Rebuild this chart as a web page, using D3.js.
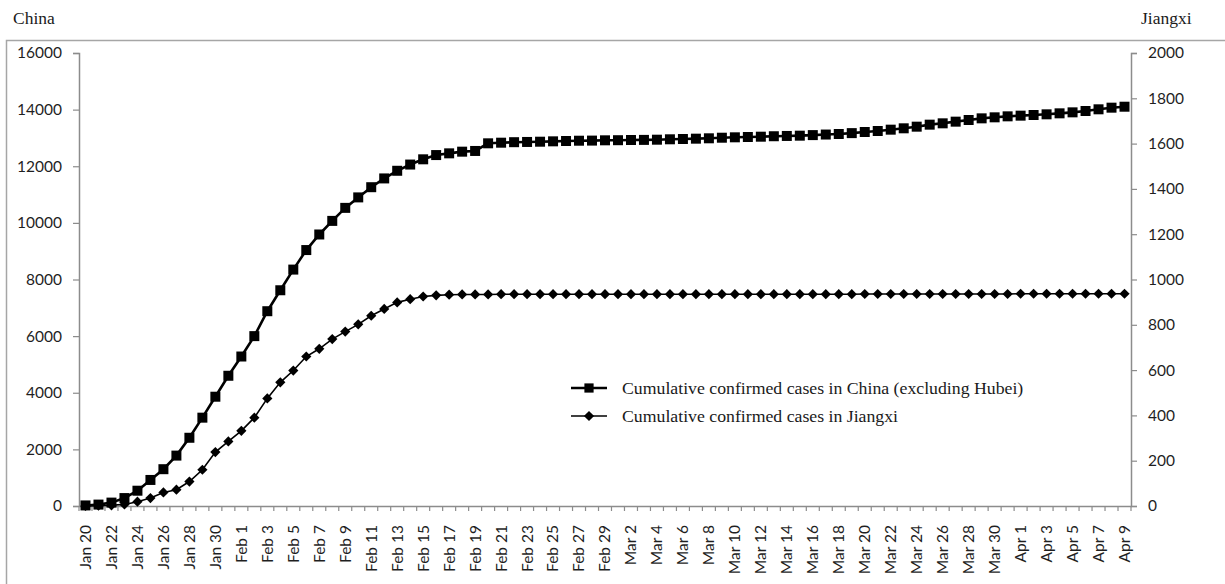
<!DOCTYPE html>
<html>
<head>
<meta charset="utf-8">
<script src="https://cdn.jsdelivr.net/npm/d3@7"></script>
<style>
  body { margin: 0; background: #fff; }
  .tick text { font-family: Lato, "Open Sans", sans-serif; font-size: 15.5px; fill: #1f1f1f; }
  .serif { font-family: "Liberation Serif", "Times New Roman", serif; fill: #1a1a1a; }
</style>
</head>
<body>
<div id="chart"></div>
<script>
// chart size
const width = 1225;
const height = 584;
const margin = {left: 79, right: 94, top: 53, bottom: 78};

// categories (daily, 2020)
const dates = [
  "Jan 20","Jan 21","Jan 22","Jan 23","Jan 24","Jan 25","Jan 26","Jan 27","Jan 28","Jan 29","Jan 30","Jan 31",
  "Feb 1","Feb 2","Feb 3","Feb 4","Feb 5","Feb 6","Feb 7","Feb 8","Feb 9","Feb 10","Feb 11","Feb 12","Feb 13",
  "Feb 14","Feb 15","Feb 16","Feb 17","Feb 18","Feb 19","Feb 20","Feb 21","Feb 22","Feb 23","Feb 24","Feb 25",
  "Feb 26","Feb 27","Feb 28","Feb 29",
  "Mar 1","Mar 2","Mar 3","Mar 4","Mar 5","Mar 6","Mar 7","Mar 8","Mar 9","Mar 10","Mar 11","Mar 12","Mar 13",
  "Mar 14","Mar 15","Mar 16","Mar 17","Mar 18","Mar 19","Mar 20","Mar 21","Mar 22","Mar 23","Mar 24","Mar 25",
  "Mar 26","Mar 27","Mar 28","Mar 29","Mar 30","Mar 31",
  "Apr 1","Apr 2","Apr 3","Apr 4","Apr 5","Apr 6","Apr 7","Apr 8","Apr 9"
];

// cumulative confirmed cases in China excluding Hubei (left axis)
const chinaCases = [
  20, 50, 120, 280, 540, 920, 1300, 1780, 2410, 3120, 3860, 4600,
  5280, 6000, 6880, 7620, 8350, 9040, 9590, 10070, 10530, 10900, 11260, 11570, 11840,
  12060, 12245, 12395, 12456, 12515, 12540, 12810, 12832, 12850, 12858, 12867, 12880,
  12892, 12902, 12906, 12916,
  12920, 12927, 12931, 12938, 12952, 12962, 12974, 12987, 13008, 13022, 13033, 13044, 13060,
  13070, 13080, 13100, 13120, 13140, 13170, 13210, 13245, 13292, 13340, 13398, 13469,
  13516, 13575, 13634, 13692, 13728, 13763,
  13787, 13810, 13834, 13869, 13904, 13952, 14011, 14069, 14103
];

// cumulative confirmed cases in Jiangxi (right axis)
const jiangxiCases = [
  0, 2, 3, 7, 19, 35, 60, 72, 108, 160, 238, 285,
  332, 390, 475, 546, 598, 660, 694, 737, 770, 802, 840, 870, 899,
  913, 925, 930, 933, 934, 934, 934, 935, 935, 935, 935, 935,
  935, 935, 935, 935,
  935, 935, 935, 935, 935, 935, 935, 935, 935, 935, 935, 935, 935,
  935, 935, 935, 935, 935, 935, 936, 936, 936, 936, 936, 936,
  936, 936, 936, 936, 936, 936,
  937, 937, 937, 937, 937, 937, 937, 937, 937
];

const leftTicks = [0, 2000, 4000, 6000, 8000, 10000, 12000, 14000, 16000];
const rightTicks = [0, 200, 400, 600, 800, 1000, 1200, 1400, 1600, 1800, 2000];

const legendLabels = [
  "Cumulative confirmed cases in China (excluding Hubei)",
  "Cumulative confirmed cases in Jiangxi"
];

const axisColor = "#8c8c8c";

const svg = d3.select("#chart")
  .append("svg")
  .attr("width", width)
  .attr("height", height);

// outer frame
svg.append("rect")
  .attr("x", 6.5).attr("y", 40.5)
  .attr("width", width + 20).attr("height", height)
  .attr("fill", "none")
  .attr("stroke", "#a6a6a6")
  .attr("stroke-width", 1.5);

// axis titles
svg.append("text").attr("class", "serif")
  .attr("x", 13).attr("y", 24)
  .style("font-size", "17.5px")
  .text("China");
svg.append("text").attr("class", "serif")
  .attr("x", 1141).attr("y", 24)
  .style("font-size", "17.5px")
  .text("Jiangxi");

/* scales */
const xScale = d3.scaleBand()
  .domain(dates)
  .range([margin.left, width - margin.right])
  .padding(0);
const xc = d => xScale(d) + xScale.bandwidth() / 2;

const yLeft = d3.scaleLinear()
  .domain([0, 16000])
  .range([height - margin.bottom, margin.top]);

const yRight = d3.scaleLinear()
  .domain([0, 2000])
  .range([height - margin.bottom, margin.top]);

/* axes */
const gLeft = svg.append("g")
  .attr("transform", `translate(${margin.left},0)`)
  .call(d3.axisLeft(yLeft).tickValues(leftTicks).tickFormat(d3.format("d"))
    .tickSizeOuter(0).tickSize(6).tickPadding(11));

const gRight = svg.append("g")
  .attr("transform", `translate(${width - margin.right},0)`)
  .call(d3.axisRight(yRight).tickValues(rightTicks).tickFormat(d3.format("d"))
    .tickSizeOuter(0).tickSize(6).tickPadding(11));

const gX = svg.append("g")
  .attr("transform", `translate(0,${height - margin.bottom})`)
  .call(d3.axisBottom(xScale)
    .tickValues(dates.filter((d, i) => i % 2 === 0))
    .tickSize(0).tickSizeOuter(0));

gX.selectAll(".tick text")
  .attr("transform", "rotate(-90)")
  .attr("x", -19)
  .attr("y", 0)
  .attr("dy", "0.35em")
  .style("text-anchor", "end");

// tick marks between categories
gX.selectAll(".bound")
  .data(dates.map(d => xScale(d)).concat([width - margin.right]))
  .enter()
  .append("line")
    .attr("class", "bound")
    .attr("x1", d => d).attr("x2", d => d)
    .attr("y1", 0).attr("y2", 5);

[gLeft, gRight, gX].forEach(g => {
  g.selectAll("path.domain").attr("stroke", axisColor).attr("stroke-width", 1.5);
  g.selectAll("line").attr("stroke", axisColor).attr("stroke-width", 1.2);
});

/* lines */
const lineChina = d3.line()
  .x((d, i) => xc(dates[i]))
  .y(d => yLeft(d));

const lineJiangxi = d3.line()
  .x((d, i) => xc(dates[i]))
  .y(d => yRight(d));

svg.append("path")
  .datum(jiangxiCases)
  .attr("fill", "none")
  .attr("stroke", "#000")
  .attr("stroke-width", 1.6)
  .attr("d", lineJiangxi);

svg.append("path")
  .datum(chinaCases)
  .attr("fill", "none")
  .attr("stroke", "#000")
  .attr("stroke-width", 2.6)
  .attr("d", lineChina);

/* markers */
const square = d3.symbol(d3.symbolSquare, 100);
const diamond = d3.symbol(d3.symbolSquare, 52);

svg.selectAll(".jx")
  .data(jiangxiCases)
  .enter()
  .append("path")
    .attr("class", "jx")
    .attr("d", diamond)
    .attr("transform", (d, i) => `translate(${xc(dates[i])},${yRight(d)}) rotate(45)`)
    .attr("fill", "#000");

svg.selectAll(".cn")
  .data(chinaCases)
  .enter()
  .append("path")
    .attr("class", "cn")
    .attr("d", square)
    .attr("transform", (d, i) => `translate(${xc(dates[i])},${yLeft(d)})`)
    .attr("fill", "#000");

/* legend */
const legend = svg.append("g").attr("transform", "translate(571,388)");

legend.append("line")
  .attr("x1", 0).attr("x2", 36).attr("y1", 0).attr("y2", 0)
  .attr("stroke", "#000").attr("stroke-width", 2.6);
legend.append("path")
  .attr("d", d3.symbol(d3.symbolSquare, 85))
  .attr("transform", "translate(18,0)");
legend.append("text").attr("class", "serif")
  .attr("x", 51).attr("y", 5.5)
  .style("font-size", "17.75px")
  .text(legendLabels[0]);

legend.append("line")
  .attr("x1", 0).attr("x2", 36).attr("y1", 28).attr("y2", 28)
  .attr("stroke", "#000").attr("stroke-width", 1.6);
legend.append("path")
  .attr("d", diamond)
  .attr("transform", "translate(18,28) rotate(45)");
legend.append("text").attr("class", "serif")
  .attr("x", 51).attr("y", 33.5)
  .style("font-size", "17.75px")
  .text(legendLabels[1]);
</script>
</body>
</html>
